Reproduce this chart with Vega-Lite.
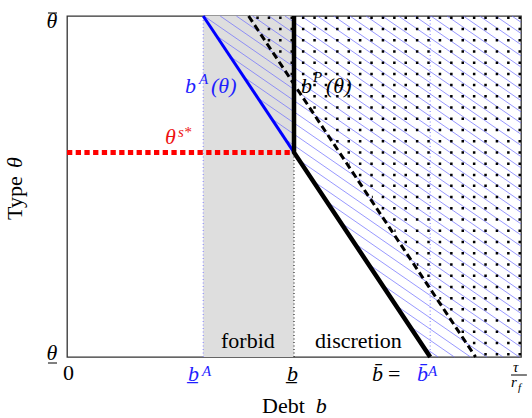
{
 "$schema": "https://vega.github.io/schema/vega-lite/v6.json",
 "width": 454, "height": 341,
 "autosize": {"type": "none"},
 "padding": {"left": 67, "top": 16, "right": 11, "bottom": 61},
 "background": "white",
 "config": {"view": {"stroke": "#333333", "strokeWidth": 1.3}, "axis": {"disable": true}, "legend": {"disable": true}, "text": {"font": "Liberation Serif"}},
 "encoding": {
  "x": {"field": "x", "type": "quantitative", "scale": {"domain": [0, 1], "nice": false, "zero": false}},
  "y": {"field": "y", "type": "quantitative", "scale": {"domain": [0, 1], "nice": false, "zero": false}}
 },
 "layer": [
  {"data": {"values": [{"x": 0.3, "x2": 0.5, "y": 0, "y2": 1}]},
   "mark": {"type": "rect", "color": "#dedede"},
   "encoding": {"x2": {"field": "x2"}, "y2": {"field": "y2"}}},
  {"data": {"values": [
    {"x": 0.980, "y": 1, "x2": 1, "y2": 0.9816},
    {"x": 0.9443, "y": 1, "x2": 1, "y2": 0.9488},
    {"x": 0.9086, "y": 1, "x2": 1, "y2": 0.9160},
    {"x": 0.8729, "y": 1, "x2": 1, "y2": 0.8831},
    {"x": 0.8372, "y": 1, "x2": 1, "y2": 0.8503},
    {"x": 0.8015, "y": 1, "x2": 1, "y2": 0.8174},
    {"x": 0.7658, "y": 1, "x2": 1, "y2": 0.7846},
    {"x": 0.7301, "y": 1, "x2": 1, "y2": 0.7517},
    {"x": 0.6944, "y": 1, "x2": 1, "y2": 0.7189},
    {"x": 0.6587, "y": 1, "x2": 1, "y2": 0.6860},
    {"x": 0.6230, "y": 1, "x2": 1, "y2": 0.6532},
    {"x": 0.5873, "y": 1, "x2": 1, "y2": 0.6204},
    {"x": 0.5516, "y": 1, "x2": 1, "y2": 0.5875},
    {"x": 0.5159, "y": 1, "x2": 1, "y2": 0.5547},
    {"x": 0.4802, "y": 1, "x2": 1, "y2": 0.5218},
    {"x": 0.4445, "y": 1, "x2": 1, "y2": 0.4890},
    {"x": 0.4088, "y": 1, "x2": 1, "y2": 0.4561},
    {"x": 0.3731, "y": 1, "x2": 1, "y2": 0.4233},
    {"x": 0.3374, "y": 1, "x2": 1, "y2": 0.3904},
    {"x": 0.3017, "y": 1, "x2": 1, "y2": 0.3576},
    {"x": 0.3290, "y": 0.9421, "x2": 1, "y2": 0.3248},
    {"x": 0.3593, "y": 0.8813, "x2": 1, "y2": 0.2919},
    {"x": 0.3898, "y": 0.8205, "x2": 1, "y2": 0.2591},
    {"x": 0.4202, "y": 0.7597, "x2": 1, "y2": 0.2262},
    {"x": 0.4506, "y": 0.6989, "x2": 1, "y2": 0.1934},
    {"x": 0.4810, "y": 0.6380, "x2": 1, "y2": 0.1605},
    {"x": 0.5114, "y": 0.5772, "x2": 1, "y2": 0.1277},
    {"x": 0.5418, "y": 0.5164, "x2": 1, "y2": 0.0949},
    {"x": 0.5722, "y": 0.4556, "x2": 1, "y2": 0.0620},
    {"x": 0.6026, "y": 0.3947, "x2": 1, "y2": 0.0292},
    {"x": 0.6330, "y": 0.3339, "x2": 0.996, "y2": 0},
    {"x": 0.6634, "y": 0.2731, "x2": 0.9603, "y2": 0},
    {"x": 0.6939, "y": 0.2123, "x2": 0.9246, "y2": 0},
    {"x": 0.7243, "y": 0.1515, "x2": 0.8889, "y2": 0},
    {"x": 0.7547, "y": 0.0906, "x2": 0.8532, "y2": 0},
    {"x": 0.7851, "y": 0.0298, "x2": 0.8175, "y2": 0}
   ]},
   "mark": {"type": "rule", "color": "#6b6bff", "strokeWidth": 0.7},
   "encoding": {"x2": {"field": "x2"}, "y2": {"field": "y2"}}},
  {"data": {"values": [
    {"x": 1, "y": 0.995, "x2": 0.4085},
    {"x": 1, "y": 0.962, "x2": 0.425},
    {"x": 1, "y": 0.929, "x2": 0.4415},
    {"x": 1, "y": 0.896, "x2": 0.458},
    {"x": 1, "y": 0.863, "x2": 0.4745},
    {"x": 1, "y": 0.830, "x2": 0.491},
    {"x": 1, "y": 0.798, "x2": 0.507},
    {"x": 1, "y": 0.765, "x2": 0.5235},
    {"x": 1, "y": 0.732, "x2": 0.540},
    {"x": 1, "y": 0.699, "x2": 0.5565},
    {"x": 1, "y": 0.666, "x2": 0.573},
    {"x": 1, "y": 0.633, "x2": 0.5895},
    {"x": 1, "y": 0.600, "x2": 0.606},
    {"x": 1, "y": 0.567, "x2": 0.6225},
    {"x": 1, "y": 0.534, "x2": 0.639},
    {"x": 1, "y": 0.502, "x2": 0.655},
    {"x": 1, "y": 0.469, "x2": 0.6715},
    {"x": 1, "y": 0.436, "x2": 0.688},
    {"x": 1, "y": 0.403, "x2": 0.7045},
    {"x": 1, "y": 0.370, "x2": 0.721},
    {"x": 1, "y": 0.337, "x2": 0.7375},
    {"x": 1, "y": 0.304, "x2": 0.754},
    {"x": 1, "y": 0.271, "x2": 0.7705},
    {"x": 1, "y": 0.238, "x2": 0.787},
    {"x": 1, "y": 0.205, "x2": 0.8035},
    {"x": 1, "y": 0.172, "x2": 0.820},
    {"x": 1, "y": 0.140, "x2": 0.836},
    {"x": 1, "y": 0.107, "x2": 0.8525},
    {"x": 1, "y": 0.074, "x2": 0.869},
    {"x": 1, "y": 0.041, "x2": 0.8855},
    {"x": 1, "y": 0.008, "x2": 0.902}
   ]},
   "mark": {"type": "rule", "color": "black", "strokeWidth": 2.5, "strokeDash": [2.5, 8.9], "strokeCap": "butt"},
   "encoding": {"x2": {"field": "x2"}}},
  {"data": {"values": [{"x": 0.3, "y": 0, "y2": 1}, {"x": 0.8, "y": 0, "y2": 1}]},
   "mark": {"type": "rule", "color": "#7f7fff", "strokeWidth": 1, "strokeDash": [1, 2.5]},
   "encoding": {"y2": {"field": "y2"}}},
  {"data": {"values": [{"x": 0.5, "y": 0, "y2": 0.6}]},
   "mark": {"type": "rule", "color": "black", "strokeWidth": 1, "strokeDash": [1, 2.5]},
   "encoding": {"y2": {"field": "y2"}}},
  {"data": {"values": [{"x": 0, "x2": 0.5, "y": 0.6}]},
   "mark": {"type": "rule", "color": "#ff0000", "strokeWidth": 5, "strokeDash": [5.3, 3.4], "strokeCap": "butt"},
   "encoding": {"x2": {"field": "x2"}}},
  {"data": {"values": [{"x": 0.3, "y": 1, "o": 1}, {"x": 0.5, "y": 0.6, "o": 2}]},
   "mark": {"type": "line", "color": "#0000ff", "strokeWidth": 3},
   "encoding": {"order": {"field": "o"}}},
  {"data": {"values": [{"x": 0.4, "y": 1, "o": 1}, {"x": 0.9, "y": 0, "o": 2}]},
   "mark": {"type": "line", "color": "black", "strokeWidth": 3, "strokeDash": [7, 4]},
   "encoding": {"order": {"field": "o"}}},
  {"data": {"values": [{"x": 0.5, "y": 1, "o": 1}, {"x": 0.5, "y": 0.6, "o": 2}, {"x": 0.8, "y": 0, "o": 3}]},
   "mark": {"type": "line", "color": "black", "strokeWidth": 4.5, "strokeJoin": "miter"},
   "encoding": {"order": {"field": "o"}}},
  {"data": {"values": [
    {"x": 0.978, "x2": 1.013, "y": -0.0528, "g": "principal"},
    {"x": -0.0419, "x2": -0.022, "y": 1.0088, "g": "principal"},
    {"x": -0.0419, "x2": -0.022, "y": -0.0176, "g": "principal"}
   ]},
   "mark": {"type": "rule", "strokeWidth": 1},
   "encoding": {"x2": {"field": "x2"}, "color": {"field": "g", "type": "nominal", "scale": {"domain": ["agent", "principal", "threshold"], "range": ["#1f1fff", "#000000", "#ee1111"]}, "legend": null}}},
  {"data": {"values": [
    {"t": "b", "x": 0.2599, "y": 0.7742, "g": "agent"},
    {"t": "(θ)", "x": 0.3172, "y": 0.7742, "g": "agent"},
    {"t": "b", "x": 0.5154, "y": 0.7742, "g": "principal"},
    {"t": "(θ)", "x": 0.5705, "y": 0.7742, "g": "principal"},
    {"t": "θ", "x": 0.2159, "y": 0.6246, "g": "threshold"},
    {"t": "b̲", "x": 0.2665, "y": -0.0704, "g": "agent"},
    {"t": "b̲", "x": 0.4846, "y": -0.0704, "g": "principal"},
    {"t": "b̄", "x": 0.6718, "y": -0.0704, "g": "principal"},
    {"t": "b̄", "x": 0.7709, "y": -0.0704, "g": "agent"},
    {"t": "θ", "x": -0.0452, "y": 0.9635, "g": "principal"},
    {"t": "θ", "x": -0.0452, "y": -0.0088, "g": "principal"},
    {"t": "b", "x": 0.548, "y": -0.1642, "g": "principal"}
   ]},
   "mark": {"type": "text", "fontSize": 22, "fontStyle": "italic", "align": "left", "baseline": "alphabetic"},
   "encoding": {"text": {"field": "t"}, "color": {"field": "g", "type": "nominal", "scale": {"domain": ["agent", "principal", "threshold"], "range": ["#1f1fff", "#000000", "#ee1111"]}, "legend": null}}},
  {"data": {"values": [
    {"t": "A", "x": 0.2907, "y": 0.8007, "g": "agent"},
    {"t": "P", "x": 0.5419, "y": 0.8066, "g": "principal"},
    {"t": "s*", "x": 0.2445, "y": 0.6462, "g": "threshold"},
    {"t": "A", "x": 0.2974, "y": -0.0547, "g": "agent"},
    {"t": "A", "x": 0.7952, "y": -0.0547, "g": "agent"},
    {"t": "τ", "x": 0.9824, "y": -0.044, "g": "principal"},
    {"t": "r", "x": 0.978, "y": -0.088, "g": "principal"}
   ]},
   "mark": {"type": "text", "fontSize": 15, "fontStyle": "italic", "align": "left", "baseline": "alphabetic"},
   "encoding": {"text": {"field": "t"}, "color": {"field": "g", "type": "nominal", "scale": {"domain": ["agent", "principal", "threshold"], "range": ["#1f1fff", "#000000", "#ee1111"]}, "legend": null}}},
  {"data": {"values": [{"t": "f", "x": 0.9934, "y": -0.0997}]},
   "mark": {"type": "text", "fontSize": 11, "fontStyle": "italic", "align": "left", "baseline": "alphabetic", "color": "black"},
   "encoding": {"text": {"field": "t"}}},
  {"data": {"values": [
    {"t": "forbid", "x": 0.3392, "y": 0.0264},
    {"t": "discretion", "x": 0.5463, "y": 0.0264},
    {"t": "0", "x": -0.0088, "y": -0.0674},
    {"t": "=", "x": 0.707, "y": -0.0704},
    {"t": "Debt", "x": 0.4295, "y": -0.1642}
   ]},
   "mark": {"type": "text", "fontSize": 22, "align": "left", "baseline": "alphabetic", "color": "black"},
   "encoding": {"text": {"field": "t"}}},
  {"data": {"values": [{"t": "Type", "x": -0.1002, "y": 0.4018}]},
   "mark": {"type": "text", "fontSize": 22, "angle": 270, "align": "left", "baseline": "alphabetic", "color": "black"},
   "encoding": {"text": {"field": "t"}}},
  {"data": {"values": [{"t": "θ", "x": -0.1002, "y": 0.554}]},
   "mark": {"type": "text", "fontSize": 22, "angle": 270, "fontStyle": "italic", "align": "left", "baseline": "alphabetic", "color": "black"},
   "encoding": {"text": {"field": "t"}}}
 ]
}
